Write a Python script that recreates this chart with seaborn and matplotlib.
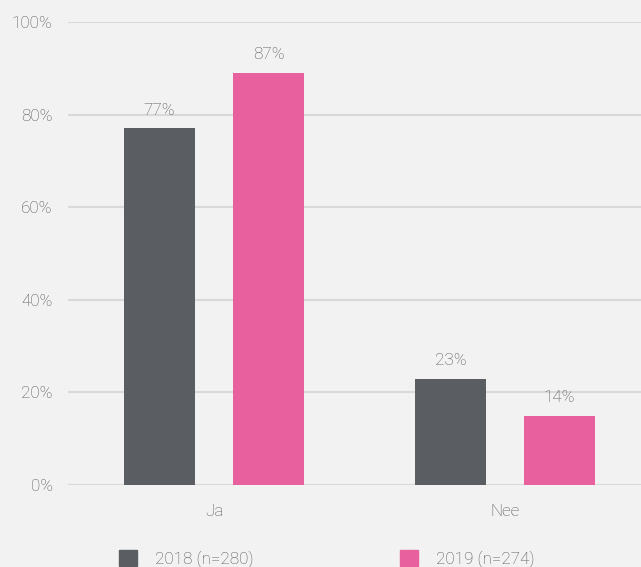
import pandas as pd
import matplotlib
matplotlib.use('Agg')
import matplotlib.pyplot as plt
import seaborn as sns

# Data
categories = ['Ja', 'Nee']
years = ['2018 (n=280)', '2019 (n=274)']
bar_2018 = [77, 23]
bar_2019 = [89, 15]          # bar heights as drawn
labels_2018 = ['77%', '23%']
labels_2019 = ['87%', '14%']  # printed labels
yticks = [0, 20, 40, 60, 80, 100]

colors = ['#5a5d62', '#e8609e']
bg = '#f2f2f2'
txt = '#555555'
fs = 12.3

df = pd.DataFrame({
    'cat': categories * 2,
    'year': [years[0]] * 2 + [years[1]] * 2,
    'val': bar_2018 + bar_2019,
    'lab': labels_2018 + labels_2019,
})

sns.set_style('white')
plt.rcParams['font.family'] = ['Roboto', 'DejaVu Sans']
plt.rcParams['font.weight'] = 'light'

fig = plt.figure(figsize=(6.41, 5.67), dpi=100, facecolor=bg)
ax = fig.add_axes([68 / 641, 1 - 485 / 567, 1 - 68 / 641, (485 - 22) / 567])
ax.set_facecolor(bg)

sns.barplot(data=df, x='cat', y='val', hue='year', palette=colors,
            width=0.75, gap=0.35, ax=ax, legend=False, saturation=1,
            edgecolor='none', linewidth=0)

for cont, labs in zip(ax.containers, [labels_2018, labels_2019]):
    for rect, lab in zip(cont, labs):
        ax.annotate(lab, (rect.get_x() + rect.get_width() / 2, rect.get_height()),
                    xytext=(0, 10), textcoords='offset points',
                    ha='center', va='baseline', fontsize=fs, color=txt,
                    fontweight='light')

ax.set_ylim(0, 100)
ax.set_xlim(-0.502, 1.467)
ax.set_yticks(yticks)
ax.set_yticklabels([f'{t}%' for t in yticks])
ax.yaxis.grid(True, color='#d9d9d9', linewidth=1.5)
ax.set_axisbelow(True)
ax.tick_params(axis='y', length=0, pad=11, labelsize=fs, labelcolor=txt)
ax.tick_params(axis='x', length=0, pad=14, labelsize=fs, labelcolor=txt)
ax.set_xlabel('')
ax.set_ylabel('')
for s in ax.spines.values():
    s.set_visible(False)

handles = [plt.Rectangle((0, 0), 1, 1, color=c) for c in colors]
leg = fig.legend(handles, years, loc='center left',
                 bbox_to_anchor=(119 / 641, 1 - 559 / 567),
                 ncol=2, frameon=False, borderpad=0, borderaxespad=0,
                 handlelength=1.05, handleheight=1.05, handletextpad=1.05,
                 columnspacing=8.6, fontsize=fs)
for t in leg.get_texts():
    t.set_color(txt)

plt.savefig('out.png', dpi=100, facecolor=bg)
